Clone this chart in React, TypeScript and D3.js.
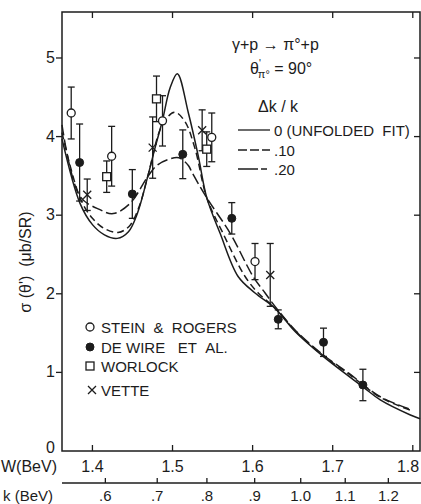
import * as d3 from 'd3';
import React, { useEffect, useRef } from 'react';

// W (BeV) tick values and k (BeV) tick values / labels
const wTicks = [1.4, 1.5, 1.6, 1.7, 1.8];
const wLabels = ['1.4', '1.5', '1.6', '1.7', '1.8'];
const kTicks = [0.6, 0.7, 0.8, 0.9, 1.0, 1.1, 1.2];
const kLabels = ['.6', '.7', '.8', '.9', '1.0', '1.1', '1.2'];
const yTicks = [0, 1, 2, 3, 4, 5];

// Stein & Rogers (open circles)
const steinW = [1.3735, 1.424, 1.4875, 1.549, 1.603];
const steinSigma = [4.30, 3.75, 4.20, 3.99, 2.41];
const steinErr = [0.33, 0.38, 0.32, 0.31, 0.23];

// De Wire et al. (filled circles)
const dewireW = [1.384, 1.4498, 1.5128, 1.574, 1.632, 1.6885, 1.7377];
const dewireSigma = [3.67, 3.27, 3.775, 2.96, 1.675, 1.383, 0.84];
const dewireErr = [0.49, 0.31, 0.31, 0.20, 0.12, 0.18, 0.20];

// Worlock (squares)
const worlockW = [1.4178, 1.480, 1.5427];
const worlockSigma = [3.49, 4.48, 3.84];
const worlockErr = [0.20, 0.29, 0.22];

// Vette (crosses)
const vetteW = [1.3935, 1.4752, 1.537, 1.622];
const vetteSigma = [3.26, 3.86, 4.08, 2.24];
const vetteErr = [0.20, 0.39, 0.26, 0.40];

// fit curves: dk/k = 0 (unfolded), .10, .20
const fit0W = [1.362, 1.3845, 1.40, 1.415, 1.431, 1.445, 1.456, 1.469, 1.478, 1.4873, 1.497, 1.506, 1.5198, 1.5323, 1.5428, 1.5594, 1.5819, 1.603, 1.628, 1.653, 1.6885, 1.7385, 1.7594, 1.797, 1.809];
const fit0Sigma = [3.97, 3.15, 2.88, 2.75, 2.705, 2.79, 3.02, 3.49, 3.85, 4.20, 4.62, 4.80, 4.30, 3.745, 3.22, 2.77, 2.22, 2.01, 1.815, 1.52, 1.20, 0.81, 0.65, 0.458, 0.41];
const fit10W = [1.362, 1.3845, 1.40, 1.415, 1.432, 1.446, 1.458, 1.469, 1.4873, 1.5025, 1.515, 1.528, 1.5428, 1.563, 1.5906, 1.607, 1.628, 1.653, 1.6885, 1.72, 1.7594, 1.797];
const fit10Sigma = [4.05, 3.22, 2.96, 2.83, 2.78, 2.86, 3.10, 3.49, 4.15, 4.31, 4.20, 3.85, 3.22, 2.77, 2.22, 2.01, 1.82, 1.53, 1.21, 0.98, 0.683, 0.52];
const fit20W = [1.362, 1.3845, 1.4094, 1.426, 1.447, 1.469, 1.480, 1.495, 1.508, 1.52, 1.524, 1.5428, 1.572, 1.6006, 1.6156, 1.628, 1.653, 1.6885, 1.72, 1.7594, 1.797];
const fit20Sigma = [4.15, 3.24, 3.07, 3.02, 3.15, 3.49, 3.63, 3.71, 3.73, 3.63, 3.55, 3.22, 2.77, 2.22, 2.01, 1.84, 1.54, 1.22, 0.99, 0.69, 0.53];

const INK = '#1c1c1c';
const FONT = '"Liberation Sans", Arial, sans-serif';
const SP = '\u00a0';

export default function App() {
    const ref = useRef<SVGSVGElement>(null);

    useEffect(() => {
        const svg = d3.select(ref.current);
        svg.selectAll('*').remove();

        const left = 62, right = 420, top = 12, bottom = 451;
        const x = d3.scaleLinear().domain([1.362, 1.809]).range([left, right]);
        const y = d3.scaleLinear().domain([0, 5.585]).range([bottom, top]);

        // k -> W for pi0 photoproduction off a proton at rest
        const mp = 0.938;
        const kToW = (k: number) => Math.sqrt(mp * mp + 2 * mp * k);

        const g = svg.append('g').attr('fill', 'none').attr('stroke', INK);

        // frame
        g.append('rect')
            .attr('x', left).attr('y', top)
            .attr('width', right - left).attr('height', bottom - top)
            .attr('stroke-width', 1.5);

        // W ticks top and bottom (inward)
        wTicks.forEach(w => {
            g.append('line').attr('x1', x(w)).attr('x2', x(w)).attr('y1', top).attr('y2', top + 6).attr('stroke-width', 1.3);
            g.append('line').attr('x1', x(w)).attr('x2', x(w)).attr('y1', bottom).attr('y2', bottom - 6).attr('stroke-width', 1.3);
        });

        // y ticks: left outward, right inward
        yTicks.forEach(v => {
            if (v === 0) return;
            g.append('line').attr('x1', left - 6).attr('x2', left).attr('y1', y(v)).attr('y2', y(v)).attr('stroke-width', 1.3);
            g.append('line').attr('x1', right - 6).attr('x2', right).attr('y1', y(v)).attr('y2', y(v)).attr('stroke-width', 1.3);
        });

        // k axis below
        const kY = 483;
        g.append('line').attr('x1', left).attr('x2', 421).attr('y1', kY).attr('y2', kY).attr('stroke-width', 1.3);
        kTicks.forEach(k => {
            g.append('line').attr('x1', x(kToW(k))).attr('x2', x(kToW(k))).attr('y1', kY).attr('y2', kY - 5).attr('stroke-width', 1.3);
        });

        // fit curves
        const line = d3.line<[number, number]>()
            .x(d => x(d[0]))
            .y(d => y(d[1]))
            .curve(d3.curveCatmullRom.alpha(0.5));
        const curves = [
            { w: fit20W, s: fit20Sigma, dash: '11,4' },
            { w: fit10W, s: fit10Sigma, dash: '7,4' },
            { w: fit0W, s: fit0Sigma, dash: null },
        ];
        curves.forEach(c => {
            const pts = c.w.map((w, i) => [w, c.s[i]] as [number, number]);
            g.append('path')
                .attr('d', line(pts))
                .attr('stroke-width', 1.5)
                .attr('stroke-dasharray', c.dash);
        });

        // error bars
        const errorBars = (ws: number[], ss: number[], es: number[]) => {
            ws.forEach((w, i) => {
                const cx = x(w);
                const y1 = y(ss[i] + es[i]), y2 = y(ss[i] - es[i]);
                g.append('line').attr('x1', cx).attr('x2', cx).attr('y1', y1).attr('y2', y2).attr('stroke-width', 1.3);
                g.append('line').attr('x1', cx - 3.5).attr('x2', cx + 3.5).attr('y1', y1).attr('y2', y1).attr('stroke-width', 1.3);
                g.append('line').attr('x1', cx - 3.5).attr('x2', cx + 3.5).attr('y1', y2).attr('y2', y2).attr('stroke-width', 1.3);
            });
        };
        errorBars(steinW, steinSigma, steinErr);
        errorBars(dewireW, dewireSigma, dewireErr);
        errorBars(worlockW, worlockSigma, worlockErr);
        errorBars(vetteW, vetteSigma, vetteErr);

        // markers
        const openCircle = (px: number, py: number) =>
            g.append('circle').attr('cx', px).attr('cy', py).attr('r', 4).attr('fill', '#fff').attr('stroke-width', 1.3);
        const filledCircle = (px: number, py: number) =>
            g.append('circle').attr('cx', px).attr('cy', py).attr('r', 4).attr('fill', INK).attr('stroke-width', 1);
        const square = (px: number, py: number) =>
            g.append('rect').attr('x', px - 4).attr('y', py - 4).attr('width', 8).attr('height', 8).attr('fill', '#fff').attr('stroke-width', 1.3);
        const cross = (px: number, py: number) =>
            g.append('path').attr('d', `M${px - 4},${py - 4}L${px + 4},${py + 4}M${px - 4},${py + 4}L${px + 4},${py - 4}`).attr('stroke-width', 1.3);

        steinW.forEach((w, i) => openCircle(x(w), y(steinSigma[i])));
        dewireW.forEach((w, i) => filledCircle(x(w), y(dewireSigma[i])));
        worlockW.forEach((w, i) => square(x(w), y(worlockSigma[i])));
        vetteW.forEach((w, i) => cross(x(w), y(vetteSigma[i])));

        // legend: curves
        const lg = [
            { label: `0 (UNFOLDED${SP}${SP}FIT)`, dash: null, ly: 130 },
            { label: '.10', dash: '9,3', ly: 150 },
            { label: '.20', dash: '20,3,6,3', ly: 169 },
        ];
        lg.forEach(l => {
            g.append('line').attr('x1', 238).attr('x2', 270).attr('y1', l.ly).attr('y2', l.ly)
                .attr('stroke-width', 1.3).attr('stroke-dasharray', l.dash);
        });

        // legend: markers
        openCircle(90, 327);
        filledCircle(90, 347);
        square(90, 366);
        cross(92, 390);

        // text
        const t = svg.append('g')
            .attr('fill', INK)
            .style('font-family', FONT);

        yTicks.forEach(v => {
            t.append('text').attr('x', 55).attr('y', v === 0 ? y(v) + 2 : y(v) + 5)
                .attr('text-anchor', 'end').style('font-size', '16px').text(String(v));
        });
        wTicks.forEach((w, i) => {
            t.append('text').attr('x', Math.min(x(w), 408)).attr('y', 472)
                .attr('text-anchor', 'middle').style('font-size', '16px').text(wLabels[i]);
        });
        kTicks.forEach((k, i) => {
            t.append('text').attr('x', x(kToW(k))).attr('y', 501)
                .attr('text-anchor', 'middle').style('font-size', '15px').text(kLabels[i]);
        });
        t.append('text').attr('x', 1).attr('y', 472).style('font-size', '16px').text('W(BeV)');
        t.append('text').attr('x', 3).attr('y', 501).style('font-size', '15px').text(`k${SP}(BeV)`);

        t.append('text')
            .attr('transform', 'translate(31,262) rotate(-90)')
            .attr('text-anchor', 'middle')
            .style('font-size', '16px')
            .text(`σ${SP}(θ')${SP}${SP}(μb/SR)`);

        t.append('text').attr('x', 232).attr('y', 50).style('font-size', '16px').text('γ+p → π°+p');
        const th = t.append('text').attr('x', 250).attr('y', 74).style('font-size', '16px');
        th.append('tspan').text('θ');
        th.append('tspan').attr('dy', -7).style('font-size', '10px').text("'");
        th.append('tspan').attr('dx', -3).attr('dy', 11).style('font-size', '11px').text('π°');
        th.append('tspan').attr('dy', -4).text(`${SP}=${SP}90°`);
        t.append('text').attr('x', 258).attr('y', 112).style('font-size', '16px').text(`Δk${SP}/${SP}k`);
        lg.forEach(l => {
            t.append('text').attr('x', 274).attr('y', l.ly + 6).style('font-size', '15px').text(l.label);
        });

        const mk = [
            { label: `STEIN${SP}${SP}&${SP}${SP}ROGERS`, ly: 327 },
            { label: `DE${SP}WIRE${SP}${SP}${SP}ET${SP}${SP}AL.`, ly: 347 },
            { label: 'WORLOCK', ly: 366 },
            { label: 'VETTE', ly: 390 },
        ];
        mk.forEach(m => {
            t.append('text').attr('x', 101).attr('y', m.ly + 6).style('font-size', '15px').text(m.label);
        });
    }, []);

    return (
        <svg ref={ref} width={421} height={504}
            style={{ position: 'absolute', left: 0, top: 0, background: '#fff' }} />
    );
}
